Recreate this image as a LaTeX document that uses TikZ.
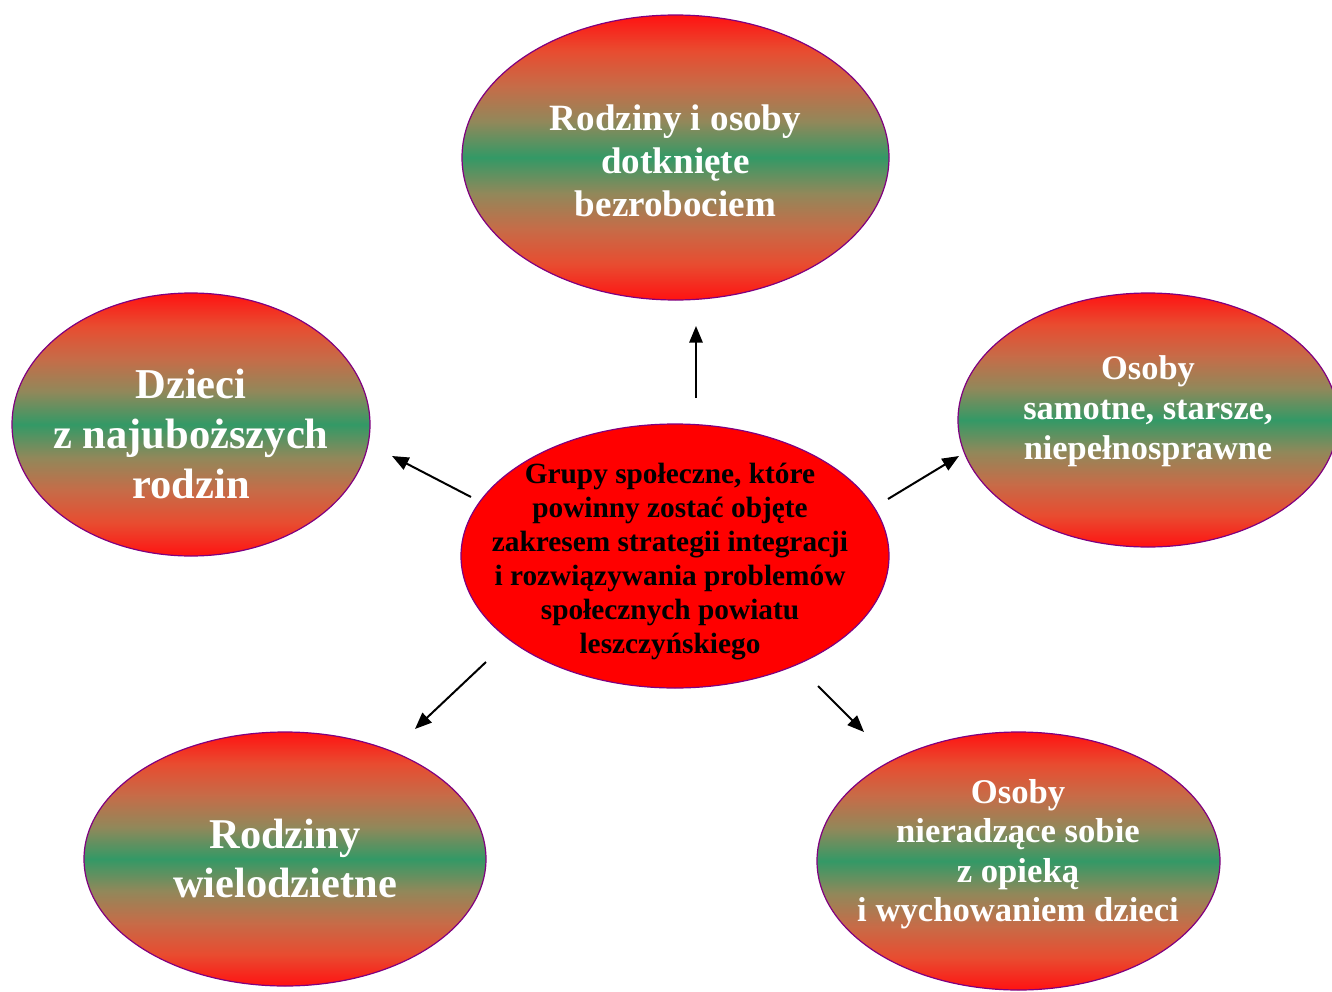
\documentclass[tikz,border=0pt]{standalone}
\usepackage{fontspec}
\setmainfont{Liberation Serif}
\usetikzlibrary{shapes.geometric,arrows.meta}
\definecolor{sred}{RGB}{255,18,18}
\definecolor{sgreen}{RGB}{51,153,102}
\definecolor{cone}{RGB}{232,76,48}
\definecolor{ctwo}{RGB}{198,108,72}
\definecolor{cthree}{RGB}{145,136,90}
\definecolor{rimpurple}{RGB}{128,0,128}
\pgfdeclareverticalshading{rgr}{100bp}{color(0bp)=(sred); color(25bp)=(sred);
  color(31.25bp)=(cone); color(37.5bp)=(ctwo); color(43.75bp)=(cthree);
  color(50bp)=(sgreen); color(56.25bp)=(cthree); color(62.5bp)=(ctwo);
  color(68.75bp)=(cone); color(75bp)=(sred); color(100bp)=(sred)}
\begin{document}
\begin{tikzpicture}[x=0.75pt,y=-0.75pt,
  bubble/.style={ellipse,draw=rimpurple,line width=0.9pt,inner sep=0pt,
    shade,shading=rgr},
  core/.style={ellipse,draw=rimpurple,line width=0.9pt,inner sep=0pt,fill=red},
  wtext/.style={align=center,text=white,font=\bfseries},
  btext/.style={align=center,text=black,font=\bfseries},
  arr/.style={line width=1.5pt,-{Triangle[length=12.5pt,width=10pt]}}]
\useasboundingbox (0,0) rectangle (1332,992);
\fill[white] (0,0) rectangle (1332,992);
% ellipses
\node[bubble,minimum width=320.25pt,minimum height=213.75pt] (top) at (675.5,157.5) {};
\node[bubble,minimum width=268.5pt,minimum height=197.25pt] (left) at (191,424.5) {};
\node[bubble,minimum width=285pt,minimum height=190.5pt] (right) at (1148,420) {};
\node[core,minimum width=321pt,minimum height=198pt] (mid) at (675,556) {};
\node[bubble,minimum width=301.5pt,minimum height=190.5pt] (bl) at (285,859) {};
\node[bubble,minimum width=302.25pt,minimum height=193.5pt] (br) at (1018.5,861) {};
% texts
\node[wtext,font=\bfseries\fontsize{27.8pt}{32.2pt}\selectfont] (ttop) at (675.5,161) {Rodziny i osoby\\dotknięte\\bezrobociem};
\node[wtext,font=\bfseries\fontsize{31.9pt}{37.2pt}\selectfont] (tleft) at (191,434) {Dzieci\\z najuboższych\\rodzin};
\node[wtext,font=\bfseries\fontsize{25.8pt}{30pt}\selectfont] (tright) at (1148,411) {Osoby\\samotne, starsze,\\niepełnosprawne};
\node[btext,font=\bfseries\fontsize{22pt}{25.5pt}\selectfont] (tmid) at (670,562) {Grupy społeczne, które\\powinny zostać objęte\\zakresem strategii integracji\\i rozwiązywania problemów\\społecznych powiatu\\leszczyńskiego};
\node[wtext,font=\bfseries\fontsize{31.8pt}{36.8pt}\selectfont] (tbl) at (285,858.5) {Rodziny\\wielodzietne};
\node[wtext,font=\bfseries\fontsize{26pt}{29.6pt}\selectfont] (tbr) at (1018,854) {Osoby\\nieradzące sobie\\z opieką\\i wychowaniem dzieci};
% arrow end points
\coordinate (aup0) at (696,398);   \coordinate (aup1) at (696,326);
\coordinate (al0) at (471,497);    \coordinate (al1) at (392,456);
\coordinate (ar0) at (888,499);    \coordinate (ar1) at (959,456);
\coordinate (abl0) at (486,662);   \coordinate (abl1) at (415,729);
\coordinate (abr0) at (818,686);   \coordinate (abr1) at (864,732);
\draw[arr] (aup0) -- (aup1);
\draw[arr] (al0) -- (al1);
\draw[arr] (ar0) -- (ar1);
\draw[arr] (abl0) -- (abl1);
\draw[arr] (abr0) -- (abr1);
\end{tikzpicture}
\end{document}
